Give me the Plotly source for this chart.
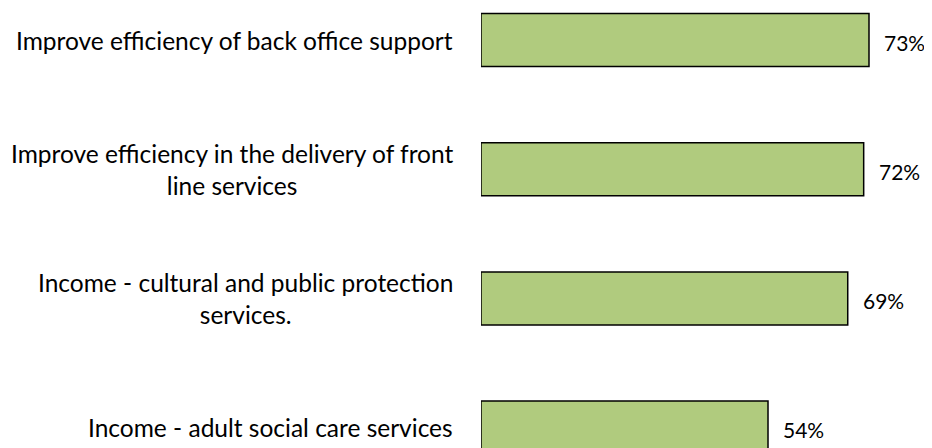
import plotly.graph_objects as go

categories = [
    "Improve efficiency of back office support",
    "Improve efficiency in the delivery of front<br>line services",
    "Income - cultural and public protection<br>services.",
    "Income - adult social care services",
]
values = [73, 72, 69, 54]
value_labels = ["73%", "72%", "69%", "54%"]

# page body has an 8px margin; figure sized so it ends at the window edge
W, H = 924, 440
left = 473
px_per_unit = 5.315
xmax = (W - left) / px_per_unit

spacing = 129.2
c0 = 32.0
y_top = -c0 / spacing
y_bot = 3 + (H - (c0 + 3 * spacing)) / spacing

fig = go.Figure()
fig.add_trace(go.Bar(
    x=values,
    y=categories,
    orientation="h",
    width=0.41,
    marker=dict(color="#B0CB7E", line=dict(color="#000000", width=1.5)),
    hoverinfo="skip",
))

label_font = dict(family="Lato, 'Open Sans', sans-serif", size=24.5, color="#000000")
value_font = dict(family="Lato, 'Open Sans', sans-serif", size=21, color="#000000")

annotations = []
for cat, v, lab in zip(categories, values, value_labels):
    annotations.append(dict(
        x=v, y=cat, xref="x", yref="y", text=lab, showarrow=False,
        xanchor="left", yanchor="middle", xshift=13, yshift=-2, font=value_font,
    ))
    annotations.append(dict(
        x=-26 / (W - left), y=cat, xref="paper", yref="y", text=cat, showarrow=False,
        xanchor="right", yanchor="middle", align="center", font=label_font,
    ))

fig.update_layout(
    width=W, height=H,
    margin=dict(l=left, r=0, t=0, b=0),
    paper_bgcolor="white", plot_bgcolor="white",
    showlegend=False,
    xaxis=dict(range=[0, xmax], visible=False),
    yaxis=dict(type="category", categoryorder="array", categoryarray=categories,
               range=[y_bot, y_top], visible=False),
    annotations=annotations,
)

fig.write_html("out.html")
